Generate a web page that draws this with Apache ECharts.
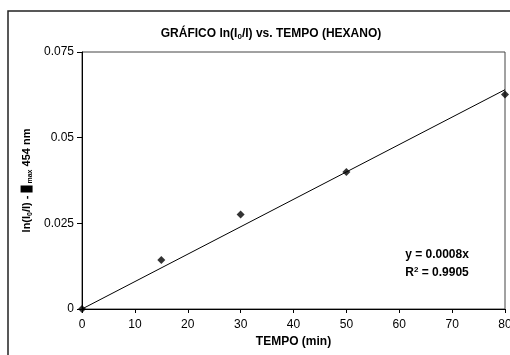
<!DOCTYPE html>
<html><head><meta charset="utf-8">
<script src="https://cdn.jsdelivr.net/npm/echarts@6/dist/echarts.min.js"></script>
<style>html,body{margin:0;padding:0;background:#fff}#c{width:510px;height:355px}</style>
</head><body><div id="c"></div>
<script>
var tempo = [0, 15, 30, 50, 80];
var lnValues = [0, 0.0143, 0.0276, 0.0400, 0.0626];
var trendX = [0, 80];
var trendY = [0, 0.064];
var yTicks = [0, 0.025, 0.05, 0.075];
var xTicks = [0, 10, 20, 30, 40, 50, 60, 70, 80];

var F = 'Liberation Sans, Arial, sans-serif';
var chart = echarts.init(document.getElementById('c'), null, {renderer: 'canvas'});
chart.setOption({
  animation: false,
  backgroundColor: '#fff',
  title: {
    text: '{t|GRÁFICO ln(I}{s|0}{t|/I) vs. TEMPO (HEXANO)}',
    left: 266, top: 22, textAlign: 'center',
    textStyle: {
      rich: {
        t: {fontFamily: F, fontSize: 12, fontWeight: 'bold', color: '#000'},
        s: {fontFamily: F, fontSize: 8, fontWeight: 'bold', color: '#000', verticalAlign: 'bottom', padding: [6, 0, 0, 0]}
      }
    }
  },
  grid: {left: 82, right: 5, top: 52, bottom: 46, show: true, borderColor: '#444', borderWidth: 1,
    containLabel: false, outerBoundsMode: 'none'},
  xAxis: {
    type: 'value', min: 0, max: 80, interval: 10,
    name: 'TEMPO (min)', nameLocation: 'middle', nameGap: 27,
    nameTextStyle: {fontFamily: F, fontSize: 12, fontWeight: 'bold', color: '#000'},
    axisLine: {show: true, onZero: false, lineStyle: {color: '#000', width: 1}},
    axisTick: {show: true, length: 4, inside: false, lineStyle: {color: '#000'}},
    axisLabel: {fontFamily: F, fontSize: 12, color: '#000', margin: 10,
      formatter: function (v) { return xTicks.indexOf(v) >= 0 ? String(v) : ''; }},
    splitLine: {show: false}
  },
  yAxis: {
    type: 'value', min: 0, max: 0.075, interval: 0.025,
    name: '{t|ln(I}{s|0}{t|/I) - }{box|}{s| max}{t| 454 nm}', nameLocation: 'middle', nameGap: 42,
    nameTextStyle: {
      rich: {
        t: {fontFamily: F, fontSize: 11, fontWeight: 'bold', color: '#000'},
        s: {fontFamily: F, fontSize: 7, fontWeight: 'bold', color: '#000', verticalAlign: 'bottom', padding: [6, 0, 0, 0]},
        box: {backgroundColor: '#000', width: 7, height: 12}
      }
    },
    axisLine: {show: true, lineStyle: {color: '#000', width: 1}},
    axisTick: {show: true, length: 5, inside: false, lineStyle: {color: '#000'}},
    axisLabel: {fontFamily: F, fontSize: 12, color: '#000', margin: 8,
      formatter: function (v) { var r = Math.round(v * 1000) / 1000; return yTicks.indexOf(r) >= 0 ? String(r) : ''; }},
    splitLine: {show: false}
  },
  series: [
    {
      type: 'line', data: trendX.map(function (x, i) { return [x, trendY[i]]; }),
      showSymbol: false, symbol: 'none', lineStyle: {color: '#000', width: 1}, z: 2
    },
    {
      type: 'scatter', data: tempo.map(function (x, i) { return [x, lnValues[i]]; }),
      symbol: 'diamond', symbolSize: 8, itemStyle: {color: '#000'}, z: 3
    }
  ],
  graphic: [
    {type: 'rect', shape: {x: 8, y: 11, width: 540, height: 380}, style: {fill: 'none', stroke: '#222', lineWidth: 1.5}, z: 10},
    {type: 'text', x: 437, y: 249, style: {
      text: '{t|y = 0.0008x}', align: 'center',
      rich: {t: {fontFamily: F, fontSize: 12, fontWeight: 'bold', fill: '#000'}}
    }},
    {type: 'text', x: 437, y: 266, style: {
      text: '{t|R}{sp|2}{t| = 0.9905}', align: 'center',
      rich: {
        t: {fontFamily: F, fontSize: 12, fontWeight: 'bold', fill: '#000'},
        sp: {fontFamily: F, fontSize: 8, fontWeight: 'bold', fill: '#000', verticalAlign: 'top', padding: [0, 0, 5, 0]}
      }
    }}
  ]
});
</script></body></html>
